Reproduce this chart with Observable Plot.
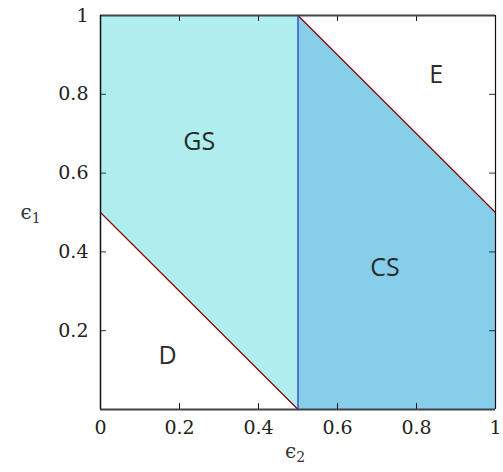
<!DOCTYPE html>
<html>
<head>
<meta charset="utf-8">
<script src="https://cdn.jsdelivr.net/npm/d3@7"></script>
<script src="https://cdn.jsdelivr.net/npm/@observablehq/plot@0.6"></script>
<style>
  html, body { margin: 0; padding: 0; background: #fff; }
</style>
</head>
<body>
<div id="chart"></div>
<script>
// Region boundaries (ε2 on x, ε1 on y)
const gsRegion = [
  {x: 0.0, y1: 0.5, y2: 1.0},
  {x: 0.5, y1: 0.0, y2: 1.0}
];
const csRegion = [
  {x: 0.5, y1: 0.0, y2: 1.0},
  {x: 1.0, y1: 0.0, y2: 0.5}
];
const lowerBoundary = [{x: 0.0, y: 0.5}, {x: 0.5, y: 0.0}];
const upperBoundary = [{x: 0.5, y: 1.0}, {x: 1.0, y: 0.5}];
const verticalBoundary = [{x: 0.5, y: 0.0}, {x: 0.5, y: 1.0}];
const regionLabels = [
  {x: 0.25, y: 0.678, text: "GS"},
  {x: 0.72, y: 0.358, text: "CS"},
  {x: 0.85, y: 0.848, text: "E"},
  {x: 0.17, y: 0.137, text: "D"}
];
const xTicks = [0, 0.2, 0.4, 0.6, 0.8, 1];
const yTicks = [0.2, 0.4, 0.6, 0.8, 1];
const innerTicks = [0.2, 0.4, 0.6, 0.8];
const axisLabels = [
  {name: "ϵ", sub: "1"},
  {name: "ϵ", sub: "2"}
];
const tickLen = 0.015;

const serif = "DejaVu Serif";
const sans = "Open Sans";

const chart = Plot.plot({
  width: 503,
  height: 472,
  marginLeft: 100,
  marginRight: 8,
  marginTop: 15,
  marginBottom: 63,
  x: {domain: [0, 1]},
  y: {domain: [0, 1]},
  style: {background: "#fff"},
  marks: [
    Plot.areaY(gsRegion, {x: "x", y1: "y1", y2: "y2", fill: "#afeeee"}),
    Plot.areaY(csRegion, {x: "x", y1: "y1", y2: "y2", fill: "#87ceeb"}),
    Plot.line(lowerBoundary, {x: "x", y: "y", stroke: "#8b0000", strokeWidth: 1.2}),
    Plot.line(upperBoundary, {x: "x", y: "y", stroke: "#8b0000", strokeWidth: 1.2}),
    Plot.line(verticalBoundary, {x: "x", y: "y", stroke: "#4060c8", strokeWidth: 1.6}),
    Plot.ruleX(innerTicks, {x: d => d, y1: 0, y2: tickLen, stroke: "#111"}),
    Plot.ruleX(innerTicks, {x: d => d, y1: 1, y2: 1 - tickLen, stroke: "#111"}),
    Plot.ruleY(innerTicks, {y: d => d, x1: 0, x2: tickLen, stroke: "#333"}),
    Plot.ruleY(innerTicks, {y: d => d, x1: 1, x2: 1 - tickLen, stroke: "#333"}),
    Plot.ruleY([0, 1], {stroke: "#404448", strokeWidth: 2}),
    Plot.ruleX([0], {stroke: "#111", strokeWidth: 1.5}),
    Plot.ruleX([1], {stroke: "#111", strokeWidth: 1.2}),
    Plot.axisX({ticks: xTicks, tickSize: 0, tickPadding: 11, tickFormat: d => String(d), label: null, fill: "#222"}),
    Plot.axisY({ticks: yTicks, tickSize: 0, tickPadding: 12, tickFormat: d => String(d), label: null, fill: "#222"}),
    Plot.text(regionLabels, {x: "x", y: "y", text: "text", fill: "#2a2a2a"}),
    Plot.text([axisLabels[0]], {text: "name", frameAnchor: "left", dx: -80, fill: "#333"}),
    Plot.text([axisLabels[1]], {text: "name", frameAnchor: "bottom", dy: 48, dx: -3, fill: "#333"})
  ]
});
document.getElementById("chart").appendChild(chart);

const svg = d3.select(chart);
svg.selectAll('g[aria-label="x-axis tick label"] text, g[aria-label="y-axis tick label"] text')
  .attr("font-family", serif).style("font-family", serif).style("font-size", "19px");
const textGroups = svg.selectAll('g[aria-label="text"]').nodes();
d3.select(textGroups[0]).selectAll("text")
  .style("font-family", sans).style("font-size", "25px");
[1, 2].forEach(i => {
  const lab = axisLabels[i - 1];
  d3.select(textGroups[i]).selectAll("text")
    .style("font-family", serif).style("font-size", "20px")
    .each(function() {
      d3.select(this).append("tspan").attr("dy", "0.3em").style("font-size", "14px").text(lab.sub);
    });
});
</script>
</body>
</html>
